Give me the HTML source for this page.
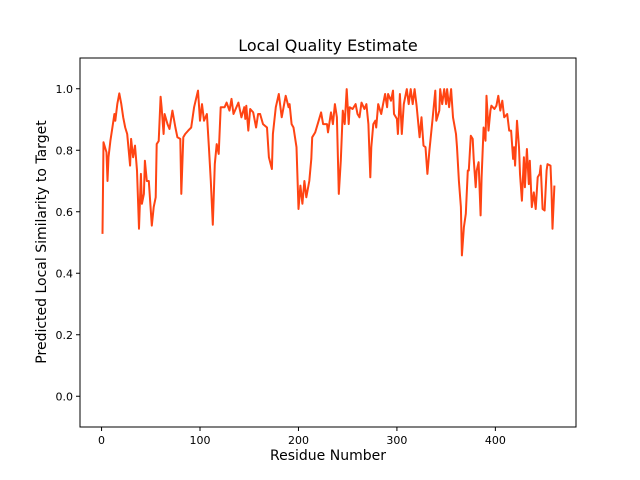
<!DOCTYPE html>
<html><head><meta charset="utf-8"><style>
body{margin:0;background:#fff;}
svg{display:block;font-family:"DejaVu Sans","Liberation Sans",sans-serif;}
</style></head><body>
<svg id="chart" width="640" height="480" viewBox="0 0 640 480">
<rect width="640" height="480" fill="#fff"/>
<text x="328" y="51" text-anchor="middle" font-size="16">Local Quality Estimate</text>
<g id="ticks"></g>
<path id="line" fill="none" stroke="#ff4413" stroke-width="2" stroke-linejoin="round"/>
<rect x="80" y="58" width="496" height="369" fill="none" stroke="#000" stroke-width="1"/>
<text x="328" y="460" text-anchor="middle" font-size="14">Residue Number</text>
<text transform="translate(46,242) rotate(-90)" text-anchor="middle" font-size="14">Predicted Local Similarity to Target</text>
</svg>
<script>
const residues=[1,2,5,6,7,9,11,13,14,16,18,20,22,24,26,29,30,32,34,36,38,40,41,43,44,46,48,51,53,55,56,58,60,61,63,64,67,69,72,75,77,80,81,83,85,88,91,94,98,100,102,104,107,109,111,113,115,117,119,121,125,127,130,132,134,139,142,145,146,147,149,151,154,157,159,161,164,168,170,173,174,177,180,183,187,190,191,193,195,198,200,202,204,206,208,211,213,214,217,220,223,225,229,230,233,235,237,239,241,243,245,247,249,251,252,255,258,260,262,264,267,269,271,273,274,276,278,279,281,284,286,288,290,291,294,296,297,300,301,303,305,307,310,312,314,316,318,320,323,325,327,329,331,333,334,336,339,340,343,344,346,348,350,351,353,355,357,360,361,363,365,366,368,370,372,373,375,377,378,380,381,383,385,386,388,390,391,393,395,396,399,401,403,405,407,409,412,414,416,418,419,420,422,424,425,427,429,430,432,434,435,437,439,441,443,445,446,448,450,452,453,456,457,458,460];
const scores=[0.528,0.826,0.793,0.70,0.777,0.831,0.874,0.918,0.896,0.95,0.985,0.95,0.907,0.874,0.853,0.75,0.837,0.777,0.815,0.734,0.545,0.723,0.626,0.658,0.766,0.70,0.70,0.555,0.615,0.647,0.82,0.83,0.974,0.94,0.853,0.918,0.885,0.869,0.929,0.874,0.842,0.837,0.658,0.842,0.853,0.864,0.874,0.94,0.994,0.896,0.95,0.896,0.918,0.81,0.70,0.558,0.755,0.82,0.788,0.94,0.94,0.955,0.929,0.967,0.918,0.955,0.907,0.94,0.902,0.945,0.864,0.934,0.923,0.874,0.918,0.918,0.885,0.874,0.777,0.739,0.853,0.94,0.983,0.907,0.977,0.94,0.95,0.885,0.874,0.81,0.609,0.685,0.626,0.70,0.647,0.70,0.772,0.842,0.858,0.891,0.923,0.885,0.885,0.858,0.923,0.885,0.95,0.907,0.658,0.766,0.929,0.885,0.999,0.885,0.94,0.934,0.95,0.918,0.907,0.955,0.934,0.95,0.885,0.712,0.81,0.885,0.896,0.874,0.95,0.918,0.95,0.983,0.94,0.983,0.961,0.994,0.918,0.902,0.853,0.983,0.853,0.95,0.999,0.95,0.999,0.95,0.999,0.945,0.842,0.907,0.815,0.81,0.723,0.799,0.831,0.896,0.994,0.896,0.929,0.999,0.95,0.999,0.95,0.999,0.94,0.999,0.907,0.853,0.81,0.70,0.615,0.458,0.55,0.593,0.734,0.734,0.847,0.837,0.772,0.68,0.734,0.761,0.588,0.712,0.874,0.831,0.977,0.864,0.929,0.945,0.934,0.945,0.977,0.929,0.961,0.907,0.918,0.864,0.864,0.772,0.81,0.75,0.896,0.81,0.723,0.636,0.777,0.68,0.804,0.69,0.766,0.615,0.663,0.609,0.712,0.723,0.75,0.609,0.604,0.734,0.755,0.75,0.669,0.545,0.685];
const xTicks=[0,100,200,300,400];
const yTicks=[0.0,0.2,0.4,0.6,0.8,1.0];
const X0=-21.9,X1=481.9,Y0=-0.1,Y1=1.1;
function xs(v){return 80+(v-X0)/(X1-X0)*496;}
function ys(v){return 427-(v-Y0)/(Y1-Y0)*369;}
const NS="http://www.w3.org/2000/svg";
const g=document.getElementById('ticks');
xTicks.forEach(t=>{
  const l=document.createElementNS(NS,'line');
  
  
  l.setAttribute('x1',xs(t));l.setAttribute('x2',xs(t));l.setAttribute('y1',427);l.setAttribute('y2',431);l.setAttribute('stroke','#000');
  g.appendChild(l);
  const tx=document.createElementNS(NS,'text');
  
  
  tx.setAttribute('x',xs(t));tx.setAttribute('y',444);tx.setAttribute('text-anchor','middle');tx.setAttribute('font-size','11');
  tx.textContent=String(t);g.appendChild(tx);
});
yTicks.forEach(t=>{
  const l=document.createElementNS(NS,'line');
  
  
  l.setAttribute('x1',76);l.setAttribute('x2',80);l.setAttribute('y1',ys(t));l.setAttribute('y2',ys(t));l.setAttribute('stroke','#000');
  g.appendChild(l);
  const tx=document.createElementNS(NS,'text');
  
  
  tx.setAttribute('x',73);tx.setAttribute('y',ys(t)+4);tx.setAttribute('text-anchor','end');tx.setAttribute('font-size','11');
  tx.textContent=t.toFixed(1);g.appendChild(tx);
});
document.getElementById('line').setAttribute('d',residues.map((r,i)=>(i?'L':'M')+xs(r).toFixed(1)+','+ys(scores[i]).toFixed(1)).join(''));
</script>
</body></html>
